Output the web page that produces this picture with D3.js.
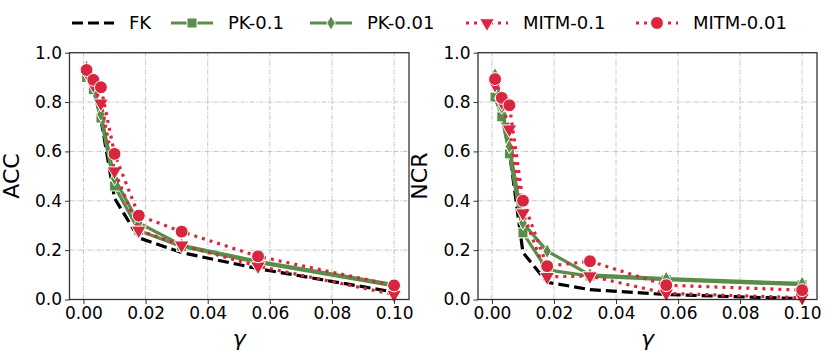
<!DOCTYPE html>
<html>
<head>
<meta charset="utf-8">
<script src="https://cdn.jsdelivr.net/npm/d3@7"></script>
<style>
  body { margin: 0; background: #fff; }
  text { font-family: "DejaVu Sans", sans-serif; fill: #000; }
</style>
</head>
<body>
<script>
// gamma values (log spaced)
let gammas = [0.001, 0.00316, 0.00562, 0.01, 0.0178, 0.0316, 0.0562, 0.1];
let xTicks = [0, 0.02, 0.04, 0.06, 0.08, 0.10];
let yTicks = [0, 0.2, 0.4, 0.6, 0.8, 1.0];
let seriesNames = ["FK", "PK-0.1", "PK-0.01", "MITM-0.1", "MITM-0.01"];

// ACC panel
let accFK = [0.91, 0.86, 0.73, 0.41, 0.25, 0.19, 0.125, 0.03];
let accPK1 = [0.90, 0.85, 0.735, 0.46, 0.28, 0.215, 0.15, 0.055];
let accPK01 = [0.94, 0.87, 0.75, 0.49, 0.31, 0.22, 0.155, 0.06];
let accMITM1 = [0.92, 0.87, 0.795, 0.52, 0.28, 0.22, 0.135, 0.02];
let accMITM01 = [0.93, 0.89, 0.86, 0.59, 0.34, 0.275, 0.175, 0.057];

// NCR panel
let ncrFK = [0.82, 0.75, 0.60, 0.19, 0.07, 0.04, 0.02, 0.003];
let ncrPK1 = [0.82, 0.74, 0.59, 0.27, 0.12, 0.095, 0.08, 0.06];
let ncrPK01 = [0.91, 0.78, 0.62, 0.31, 0.196, 0.10, 0.085, 0.065];
let ncrMITM1 = [0.87, 0.80, 0.69, 0.35, 0.092, 0.095, 0.025, 0.007];
let ncrMITM01 = [0.893, 0.817, 0.787, 0.40, 0.135, 0.155, 0.058, 0.038];

let green = "#5a8d49";
let red = "#d7263d";

let styles = {
    "FK": {color: "#000", dash: "11,5", symbol: null},
    "PK-0.1": {color: green, dash: null, symbol: d3.symbolSquare, size: 100, rot: 0},
    "PK-0.01": {color: green, dash: null, symbol: d3.symbolDiamond, size: 62, rot: 0},
    "MITM-0.1": {color: red, dash: "3,5", symbol: d3.symbolTriangle, size: 95, rot: 180},
    "MITM-0.01": {color: red, dash: "3,5", symbol: d3.symbolCircle, size: 130, rot: 0}
};

let svg = d3.select("body").append("svg").attr("width", 830).attr("height", 360);

function drawPanel(x0, x1, label, data) {
    let x = d3.scaleLinear().domain([-0.0045, 0.1048]).range([x0, x1]);
    let y = d3.scaleLinear().domain([0, 1]).range([299.5, 52.7]);
    let g = svg.append("g");

    // grid
    g.selectAll("line.gx").data(xTicks).enter().append("line")
        .attr("x1", d => x(d)).attr("x2", d => x(d))
        .attr("y1", y(0)).attr("y2", y(1))
        .attr("stroke", "#b8b8b8").attr("stroke-width", 0.8)
        .attr("stroke-dasharray", "5,1.5,1,1.5");
    g.selectAll("line.gy").data(yTicks).enter().append("line")
        .attr("x1", x0).attr("x2", x1)
        .attr("y1", d => y(d)).attr("y2", d => y(d))
        .attr("stroke", "#b8b8b8").attr("stroke-width", 0.8)
        .attr("stroke-dasharray", "5,1.5,1,1.5");

    let line = d3.line().x((d, i) => x(gammas[i])).y(d => y(d));

    seriesNames.forEach(function(name, k) {
        let s = styles[name];
        g.append("path").datum(data[k])
            .attr("d", line)
            .attr("fill", "none")
            .attr("stroke", s.color)
            .attr("stroke-width", 3.2)
            .attr("stroke-dasharray", s.dash)
            .attr("stroke-linejoin", "round");
        if (s.symbol) {
            g.selectAll("path.m" + k).data(data[k]).enter().append("path")
                .attr("d", d3.symbol().type(s.symbol).size(s.size))
                .attr("transform", (d, i) => "translate(" + x(gammas[i]) + "," + y(d) + ") rotate(" + s.rot + ")")
                .attr("fill", s.color)
                .attr("stroke", "#fff")
                .attr("stroke-width", 1);
        }
    });

    // axes
    let xAxis = d3.axisBottom(x).tickValues(xTicks).tickFormat(d3.format(".2f")).tickSize(4.5).tickPadding(3);
    let yAxis = d3.axisLeft(y).tickValues(yTicks).tickFormat(d3.format(".1f")).tickSize(4.5).tickPadding(3);
    let gx = g.append("g").attr("transform", "translate(0," + y(0) + ")").call(xAxis);
    let gy = g.append("g").attr("transform", "translate(" + x0 + ",0)").call(yAxis);
    [gx, gy].forEach(function(a) {
        a.select(".domain").remove();
        a.selectAll("text").style("font-family", "DejaVu Sans").style("font-size", "17px").attr("fill", "#000");
        a.selectAll(".tick line").attr("stroke", "#333").attr("stroke-width", 1);
    });

    g.append("rect").attr("x", x0).attr("y", y(1)).attr("width", x1 - x0).attr("height", y(0) - y(1))
        .attr("fill", "none").attr("stroke", "#333").attr("stroke-width", 1.3);

    g.append("text").attr("transform", "translate(" + (x0 - 51) + "," + ((y(0) + y(1)) / 2) + ") rotate(-90)")
        .attr("text-anchor", "middle").attr("font-size", 22).text(label);
    g.append("text").attr("x", (x0 + x1) / 2).attr("y", 346)
        .attr("text-anchor", "middle").attr("font-size", 22).attr("font-style", "italic").text("γ");
}

drawPanel(69.5, 409, "ACC", [accFK, accPK1, accPK01, accMITM1, accMITM01]);
drawPanel(478, 817, "NCR", [ncrFK, ncrPK1, ncrPK01, ncrMITM1, ncrMITM01]);

// legend
let legendX = [72, 171, 310, 466, 636];
let legend = svg.append("g");
seriesNames.forEach(function(name, k) {
    let s = styles[name];
    let lx = legendX[k];
    legend.append("line").attr("x1", lx).attr("x2", lx + 42).attr("y1", 23).attr("y2", 23)
        .attr("stroke", s.color).attr("stroke-width", 3.2).attr("stroke-dasharray", s.dash);
    if (s.symbol) {
        legend.append("path").attr("d", d3.symbol().type(s.symbol).size(s.size))
            .attr("transform", "translate(" + (lx + 21) + ",23) rotate(" + s.rot + ")")
            .attr("fill", s.color).attr("stroke", "#fff").attr("stroke-width", 1);
    }
    legend.append("text").attr("x", lx + 57).attr("y", 23).attr("dy", "0.36em")
        .attr("font-size", 18).text(name);
});
</script>
</body>
</html>
